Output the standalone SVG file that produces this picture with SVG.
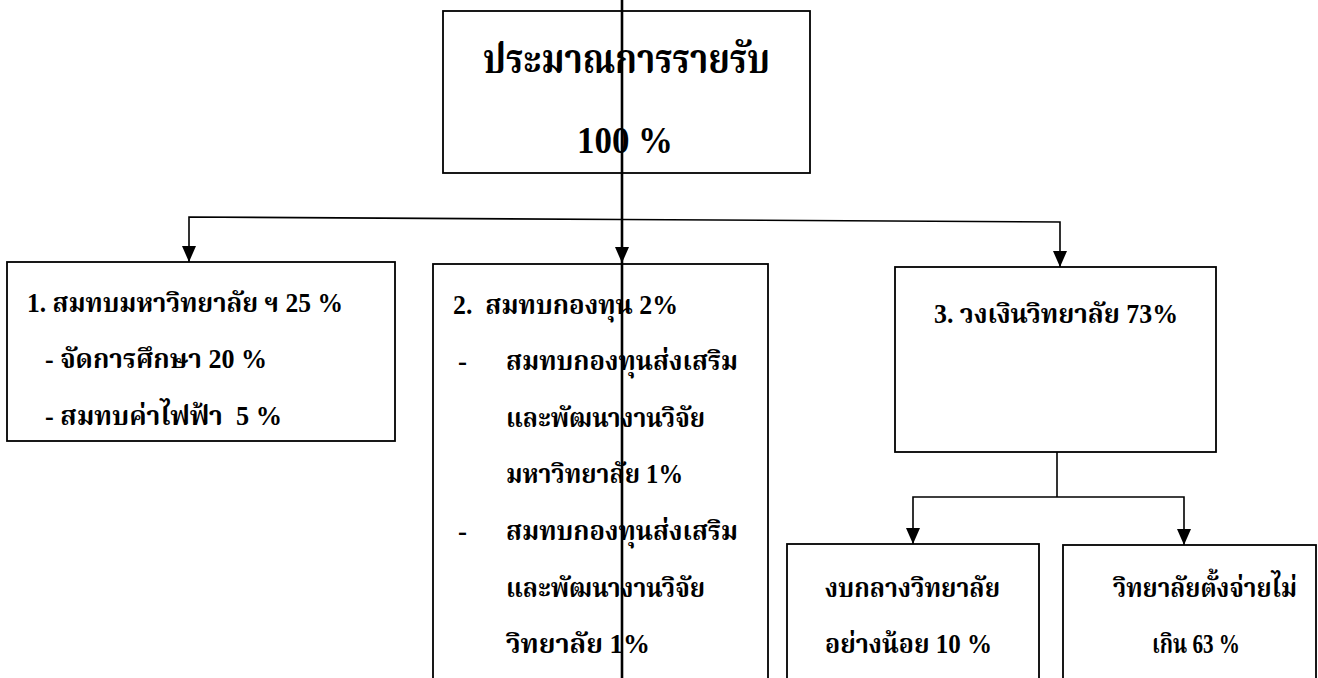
<svg xmlns="http://www.w3.org/2000/svg" width="1318" height="678" viewBox="0 0 1318 678">
<style>
.box{fill:#fff;stroke:#000;stroke-width:1.8}
.t{font-family:"Liberation Serif","Norasi","Kinnari","Noto Serif Thai","Noto Sans Thai Looped","Noto Sans Thai",serif;font-weight:bold;fill:#000;font-size:27px}
.big{font-size:40px}
.c{fill:none;stroke:#000;stroke-width:1.6}
.main{fill:none;stroke:#000;stroke-width:2.6}
</style>
<defs>
<marker id="ad" markerUnits="userSpaceOnUse" markerWidth="14" markerHeight="16" refX="7" refY="16" viewBox="0 0 14 16">
<path d="M0,0 L14,0 L7,16 Z" fill="#000"/>
</marker>
</defs>
<g id="n-top">
<rect class="box" x="443" y="11" width="367" height="162"/>
<text class="t big" x="483" y="73" textLength="287" lengthAdjust="spacingAndGlyphs">ประมาณการรายรับ</text>
<text class="t" style="font-size:38px" x="577" y="153" textLength="96" lengthAdjust="spacingAndGlyphs">100 %</text>
</g>
<g id="n-1">
<rect class="box" x="7" y="262" width="388" height="179"/>
<text class="t" x="27" y="312" textLength="316" lengthAdjust="spacingAndGlyphs">1. สมทบมหาวิทยาลัย ฯ 25 %</text>
<text class="t" x="45" y="368" textLength="222" lengthAdjust="spacingAndGlyphs">- จัดการศึกษา 20 %</text>
<text class="t" x="45" y="425" textLength="237" lengthAdjust="spacingAndGlyphs">- สมทบค่าไฟฟ้า&#160; 5 %</text>
</g>
<g id="n-2">
<rect class="box" x="433" y="264" width="335" height="430"/>
<text class="t" x="453" y="314" textLength="225" lengthAdjust="spacingAndGlyphs">2.&#160; สมทบกองทุน 2%</text>
<text class="t" x="458" y="370">-</text>
<text class="t" x="506" y="370" textLength="232" lengthAdjust="spacingAndGlyphs">สมทบกองทุนส่งเสริม</text>
<text class="t" x="506" y="427" textLength="199" lengthAdjust="spacingAndGlyphs">และพัฒนางานวิจัย</text>
<text class="t" x="506" y="483" textLength="177" lengthAdjust="spacingAndGlyphs">มหาวิทยาลัย 1%</text>
<text class="t" x="458" y="540">-</text>
<text class="t" x="506" y="540" textLength="232" lengthAdjust="spacingAndGlyphs">สมทบกองทุนส่งเสริม</text>
<text class="t" x="506" y="597" textLength="199" lengthAdjust="spacingAndGlyphs">และพัฒนางานวิจัย</text>
<text class="t" x="506" y="653" textLength="144" lengthAdjust="spacingAndGlyphs">วิทยาลัย 1%</text>
</g>
<g id="n-3">
<rect class="box" x="895" y="267" width="321" height="185"/>
<text class="t" x="934" y="323" textLength="244" lengthAdjust="spacingAndGlyphs">3. วงเงินวิทยาลัย 73%</text>
</g>
<g id="n-4">
<rect class="box" x="787" y="544" width="252" height="150"/>
<text class="t" x="825" y="597" textLength="175" lengthAdjust="spacingAndGlyphs">งบกลางวิทยาลัย</text>
<text class="t" x="825" y="653" textLength="167" lengthAdjust="spacingAndGlyphs">อย่างน้อย 10 %</text>
</g>
<g id="n-5">
<rect class="box" x="1063" y="545" width="253" height="150"/>
<text class="t" x="1113" y="597" textLength="184" lengthAdjust="spacingAndGlyphs">วิทยาลัยตั้งจ่ายไม่</text>
<text class="t" x="1152" y="653" textLength="88" lengthAdjust="spacingAndGlyphs">เกิน 63 %</text>
</g>
<g id="connectors">
<path class="main" d="M622,0 L622,263" marker-end="url(#ad)"/>
<path class="main" d="M622,263 L622,678"/>
<path class="c" d="M622,219.5 L189,217 L189,262" marker-end="url(#ad)"/>
<path class="c" d="M622,219.5 L1060,222 L1060,267" marker-end="url(#ad)"/>
<path class="c" d="M1057,452 L1057,497"/>
<path class="c" d="M1057,497 L913,497 L913,544" marker-end="url(#ad)"/>
<path class="c" d="M1057,497 L1184,497 L1184,545" marker-end="url(#ad)"/>
</g>
</svg>
